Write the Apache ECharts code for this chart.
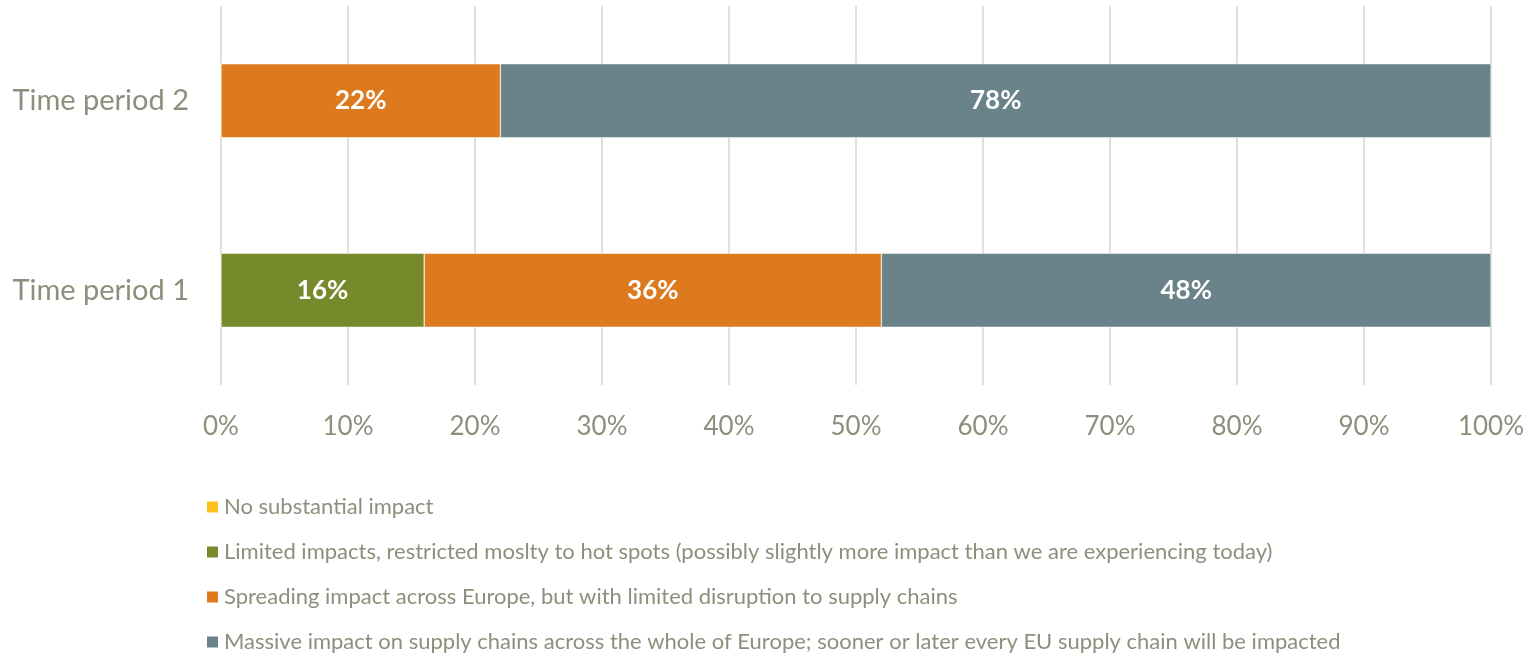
<!DOCTYPE html>
<html>
<head>
<meta charset="utf-8">
<script src="https://cdn.jsdelivr.net/npm/echarts@6/dist/echarts.min.js"></script>
<style>
  html, body { margin: 0; padding: 0; background: #fff; }
  #chart { width: 1534px; height: 654px; }
</style>
</head>
<body>
<div id="chart"></div>
<script>
// categories (bottom to top)
const categories = ['Time period 1', 'Time period 2']

// series names
const seriesNames = [
  'No substantial impact',
  'Limited impacts, restricted moslty to hot spots (possibly slightly more impact than we are experiencing today)',
  'Spreading impact across Europe, but with limited disruption to supply chains',
  'Massive impact on supply chains across the whole of Europe; sooner or later every EU supply chain will be impacted'
]

// values in %, per series, matching categories order
const noImpact = [0, 0]
const limitedImpact = [16, 0]
const spreadingImpact = [36, 22]
const massiveImpact = [48, 78]

const colors = ['#FDC01E', '#76892B', '#DD7A1E', '#6A8289']
const textColor = '#8F8E7C'
const font = 'Lato, "Open Sans", sans-serif'

const chart = echarts.init(document.getElementById('chart'))

const seriesData = [noImpact, limitedImpact, spreadingImpact, massiveImpact]

// one legend per row so the vertical list never wraps into columns
const legends = seriesNames.map((name, i) => ({
  orient: 'vertical',
  left: 205,
  top: 495 + i * 45,
  padding: 0,
  itemWidth: 13,
  itemHeight: 13,
  icon: 'rect',
  data: [name],
  textStyle: {
    color: textColor,
    fontSize: 22,
    lineHeight: 24,
    fontFamily: font
  }
}))

const option = {
  animation: false,
  color: colors,
  grid: {
    left: 221,
    right: 43,
    top: 6,
    height: 379
  },
  legend: legends,
  xAxis: {
    type: 'value',
    min: 0,
    max: 100,
    interval: 10,
    axisLine: { show: false },
    axisTick: { show: false },
    axisLabel: {
      formatter: '{value}%',
      color: textColor,
      fontSize: 26,
      fontFamily: font,
      margin: 29
    },
    splitLine: {
      lineStyle: { color: '#E0E0DC', width: 2 }
    }
  },
  yAxis: {
    type: 'category',
    data: categories,
    axisLine: { show: false },
    axisTick: { show: false },
    axisLabel: {
      color: textColor,
      fontSize: 29,
      fontFamily: font,
      margin: 32
    }
  },
  series: seriesNames.map((name, i) => ({
    name: name,
    type: 'bar',
    stack: 'total',
    barWidth: 74,
    data: seriesData[i],
    label: {
      show: true,
      position: 'inside',
      color: '#fff',
      fontSize: 26,
      fontWeight: 'bold',
      fontFamily: font,
      formatter: (p) => (p.value > 0 ? p.value + '%' : '')
    },
    itemStyle: {
      borderColor: '#fff',
      borderWidth: 0.5
    }
  }))
}

chart.setOption(option)
</script>
</body>
</html>
